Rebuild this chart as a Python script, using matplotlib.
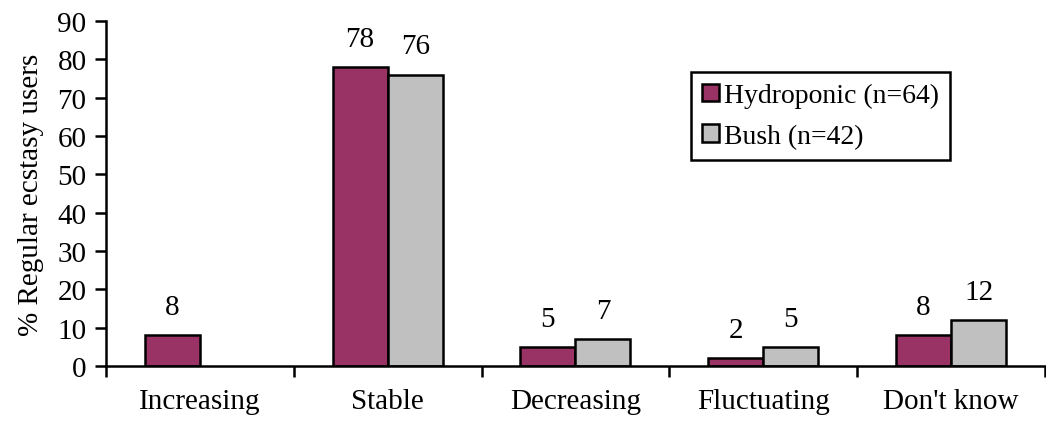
import numpy as np
import matplotlib.pyplot as plt

categories = ["Increasing", "Stable", "Decreasing", "Fluctuating", "Don't know"]
hydroponic = [8, 78, 5, 2, 8]
bush = [None, 76, 7, 5, 12]
series_names = ["Hydroponic (n=64)", "Bush (n=42)"]
yticks = [0, 10, 20, 30, 40, 50, 60, 70, 80, 90]

plt.rcParams['font.family'] = ['Liberation Serif', 'DejaVu Serif']
FS = 21

fig = plt.figure(figsize=(10.46, 4.27), dpi=100)
ax = fig.add_axes([0.1013, 0.1405, 0.8977, 0.808])

x = np.arange(len(categories))
w = 0.293
colors = ["#993366", "#C0C0C0"]

for i, (vals, name) in enumerate(zip([hydroponic, bush], series_names)):
    xs = [xi for xi, v in zip(x, vals) if v is not None]
    vs = [v for v in vals if v is not None]
    pos = np.array(xs) + (i - 0.5) * w
    ax.bar(pos, vs, width=w, color=colors[i], edgecolor="black", linewidth=1.8, label=name)
    for px, v in zip(pos, vs):
        ax.annotate(str(v), (px, v), xytext=(0, 11), textcoords="offset points",
                    ha="center", va="bottom", fontsize=FS)

ax.set_xlim(-0.5, len(categories) - 0.5)
ax.set_ylim(0, 90)
ax.set_yticks(yticks)
ax.set_xticks(x)
ax.set_xticklabels(categories)
ax.set_xticks(np.arange(-0.5, len(categories)), minor=True)
ax.tick_params(axis="x", which="major", length=0, pad=16, labelsize=FS)
ax.tick_params(axis="x", which="minor", length=8, width=1.8, direction="out")
ax.tick_params(axis="y", length=8, width=1.8, direction="out", labelsize=FS, pad=6)
ax.spines["top"].set_visible(False)
ax.spines["right"].set_visible(False)
ax.spines["left"].set_linewidth(1.8)
ax.spines["bottom"].set_linewidth(1.8)
ax.set_ylabel("% Regular ecstasy users", fontsize=FS, labelpad=10)

leg = ax.legend(loc="upper left", bbox_to_anchor=(0.623, 0.852), fontsize=FS - 1,
                fancybox=False, edgecolor="black", framealpha=1,
                handlelength=0.6, handleheight=0.6, handletextpad=0.2,
                borderpad=0.4, labelspacing=0.55, borderaxespad=0)
leg.get_frame().set_linewidth(1.8)

fig.savefig("out.png", dpi=100)
